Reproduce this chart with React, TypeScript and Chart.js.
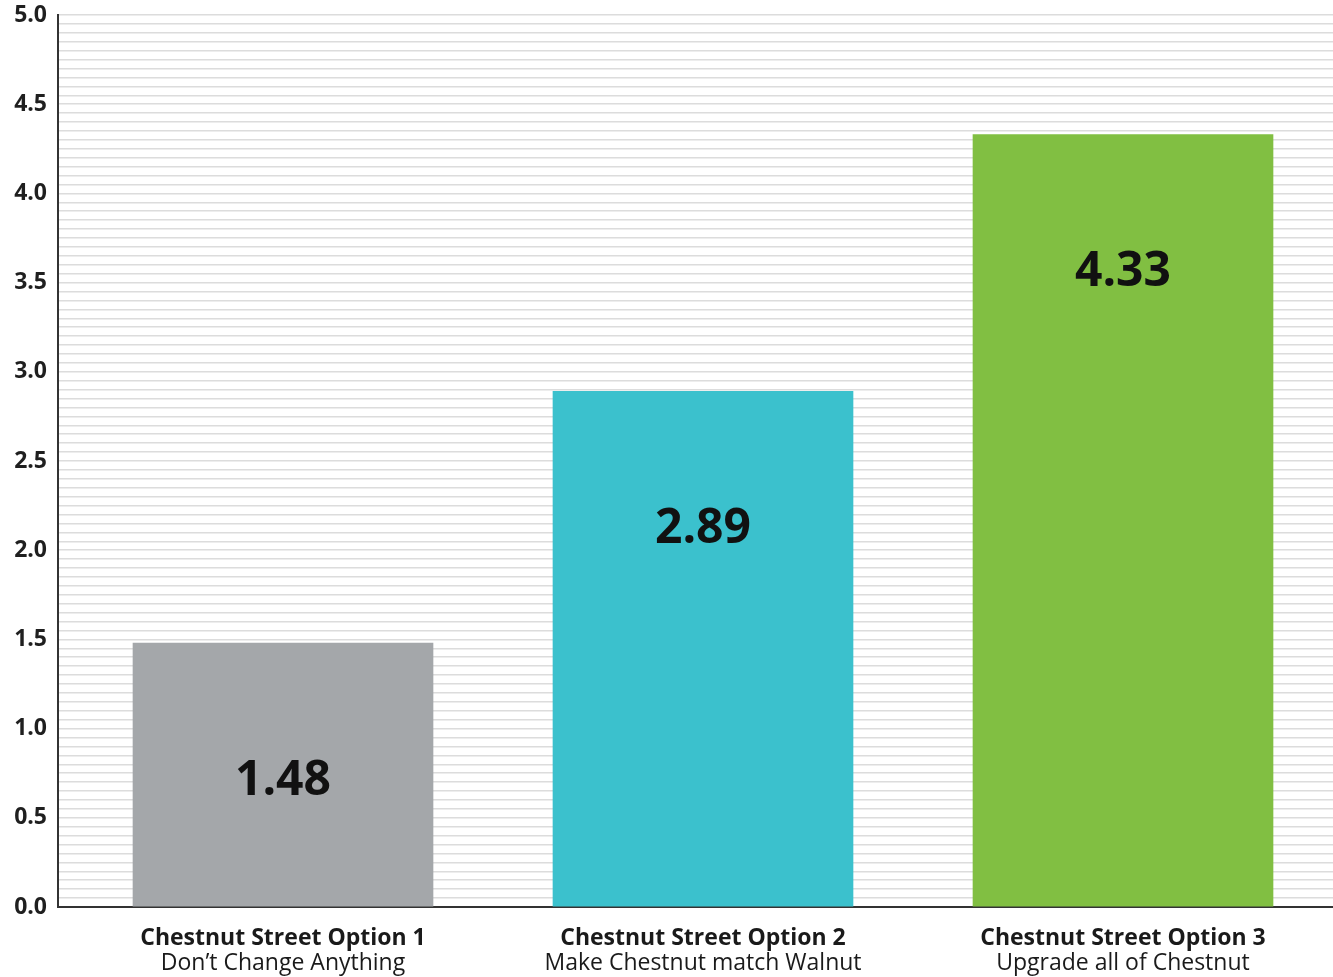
import React, { useEffect, useRef } from 'react';
import { Chart, registerables } from 'chart.js';

Chart.register(...registerables);

const categories = ['Chestnut Street Option 1', 'Chestnut Street Option 2', 'Chestnut Street Option 3'];
const subtitles = ['Don\u2019t Change Anything', 'Make Chestnut match Walnut', 'Upgrade all of Chestnut'];
const values = [1.48, 2.89, 4.33];
const barColors = ['#a4a7aa', '#3bc1cd', '#81bf42'];
const yMin = 0;
const yMax = 5;
const yMajorStep = 0.5;
const yMinorStep = 0.05;

const FONT = '"Open Sans", "Noto Sans", sans-serif';

const valueLabelPlugin = {
  id: 'valueLabels',
  afterDatasetsDraw(chart: any) {
    const ctx = chart.ctx;
    const meta = chart.getDatasetMeta(0);
    ctx.save();
    ctx.font = `bold 48px ${FONT}`;
    ctx.fillStyle = '#111111';
    ctx.textAlign = 'center';
    ctx.textBaseline = 'middle';
    meta.data.forEach((bar: any, i: number) => {
      ctx.fillText(values[i].toFixed(2), bar.x, bar.y + 138);
    });
    ctx.restore();
  },
};

const xLabelPlugin = {
  id: 'xLabels',
  afterDraw(chart: any) {
    const ctx = chart.ctx;
    const xs = chart.scales.x;
    const bottom = chart.chartArea.bottom;
    ctx.save();
    ctx.textAlign = 'center';
    ctx.textBaseline = 'alphabetic';
    ctx.fillStyle = '#1a1a1a';
    categories.forEach((c, i) => {
      const x = xs.getPixelForValue(i);
      ctx.font = `bold 23px ${FONT}`;
      ctx.fillText(c, x, bottom + 38);
      ctx.font = `23px ${FONT}`;
      ctx.fillText(subtitles[i], x, bottom + 63);
    });
    ctx.restore();
  },
};

export default function App() {
  const ref = useRef<HTMLCanvasElement | null>(null);
  useEffect(() => {
    if (!ref.current) return;
    const chart = new Chart(ref.current, {
      type: 'bar',
      data: {
        datasets: [
          {
            data: values.map((v, i) => ({ x: i, y: v })) as any,
            backgroundColor: barColors,
            barThickness: 300,
          },
        ],
      },
      options: {
        responsive: false,
        animation: false,
        devicePixelRatio: 1,
        layout: { padding: { top: 15, right: 0, left: 0, bottom: 0 } },
        plugins: { legend: { display: false }, tooltip: { enabled: false } },
        scales: {
          x: {
            type: 'linear',
            offset: false,
            min: -0.5 - 15 / 420,
            max: categories.length - 0.5,
            grid: { display: false },
            border: { display: true, color: '#333333', width: 2 },
            ticks: { display: false },
            afterFit: (s: any) => {
              s.height = 70;
              s.paddingLeft = 0;
              s.paddingRight = 0;
            },
          },
          y: {
            min: yMin,
            max: yMax,
            ticks: {
              stepSize: yMinorStep,
              autoSkip: false,
              padding: 11,
              color: '#1f1f1f',
              font: { family: FONT, weight: 'bold', size: 23 },
              callback: (v: any) => {
                const n = Number(v);
                const r = n / yMajorStep;
                return Math.abs(r - Math.round(r)) < 1e-6 ? n.toFixed(1) : '';
              },
            },
            grid: { color: '#dcdcdc', lineWidth: 1.5, drawTicks: false },
            border: { display: true, color: '#333333', width: 2 },
            afterFit: (s: any) => {
              s.width = 58;
              s.paddingTop = 0;
              s.paddingBottom = 0;
            },
          },
        },
      } as any,
      plugins: [valueLabelPlugin, xLabelPlugin],
    });
    return () => chart.destroy();
  }, []);
  return (
    <div style={{ position: 'absolute', left: 0, top: 0, width: 1333, height: 977, background: '#ffffff' }}>
      <canvas ref={ref} width={1333} height={977} />
    </div>
  );
}
